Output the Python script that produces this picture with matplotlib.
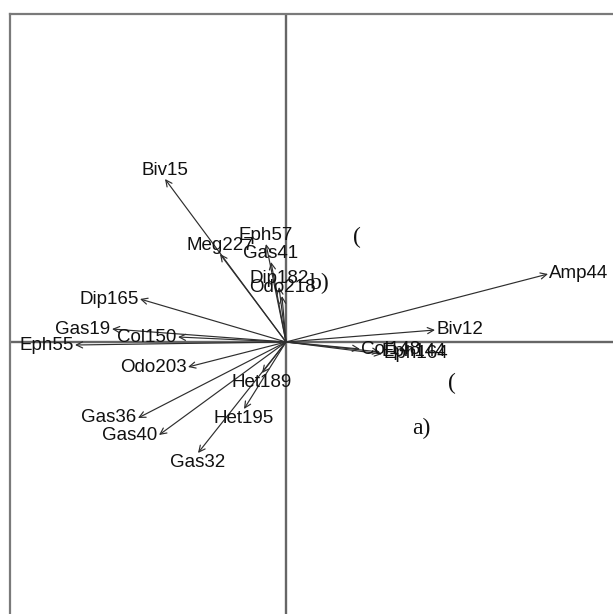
import numpy as np
import matplotlib
matplotlib.use('Agg')
import matplotlib.pyplot as plt

plt.rcParams['font.family'] = ['Liberation Sans', 'DejaVu Sans']

# 種の矢印（RDAスコア）
species = ['Biv15', 'Meg227', 'Eph57', 'Gas41', 'Dip182', 'Odo218', 'Amp44', 'Biv12',
           'Col148', 'Eph144', 'Eph164', 'Dip165', 'Gas19', 'Col150', 'Eph55', 'Odo203',
           'Gas36', 'Gas40', 'Het189', 'Het195', 'Gas32']
score_x = [-1.21, -0.66, -0.20, -0.15, -0.07, -0.04, 2.62, 1.49,
           0.74, 0.94, 0.96, -1.46, -1.74, -1.08, -2.11, -0.98,
           -1.48, -1.27, -0.24, -0.42, -0.88]
score_y = [1.63, 0.88, 0.98, 0.80, 0.55, 0.46, 0.68, 0.12,
           -0.07, -0.10, -0.12, 0.43, 0.13, 0.05, -0.03, -0.25,
           -0.76, -0.93, -0.31, -0.67, -1.11]

# 図中の注記（serif）
notes = ['(', 'b)', '(', 'a)']
note_x = [0.71, 0.34, 1.66, 1.35]
note_y = [1.05, 0.59, -0.41, -0.86]

fig = plt.figure(figsize=(6.13, 6.14), dpi=100)
ax = fig.add_axes([10 / 613, 0, 603 / 613, 600 / 614])
ax.set_xlim(-2.76, 3.27)
ax.set_ylim(-2.72, 3.28)
ax.set_xticks([])
ax.set_yticks([])
for side in ['right', 'bottom']:
    ax.spines[side].set_visible(False)
for side in ['left', 'top']:
    ax.spines[side].set_color('#7a7a7a')
    ax.spines[side].set_linewidth(1.6)

ax.axhline(0, color='#666666', lw=1.7, zorder=1)
ax.axvline(0, color='#666666', lw=1.7, zorder=1)

for name, x, y in zip(species, score_x, score_y):
    ax.annotate('', xy=(x, y), xytext=(0, 0),
                arrowprops=dict(arrowstyle='->, head_length=0.45, head_width=0.22',
                                mutation_scale=10, shrinkA=0, shrinkB=0,
                                lw=0.85, color='#2e2e2e'), zorder=2)
    if abs(y) > abs(x):
        if y > 0:
            off, ha, va = (0, 0), 'center', 'bottom'
        else:
            off, ha, va = (0, -1), 'center', 'top'
    else:
        if x > 0:
            off, ha, va = (1, 0), 'left', 'center'
        else:
            off, ha, va = (-1, 0), 'right', 'center'
    ax.annotate(name, xy=(x, y), xytext=off, textcoords='offset points',
                ha=ha, va=va, fontsize=13.5, color='#111111', zorder=3)

for t, x, y in zip(notes, note_x, note_y):
    ax.text(x, y, t, ha='center', va='center', fontsize=17,
            family=['Liberation Serif', 'DejaVu Serif'], color='#111111', zorder=3)

fig.savefig('out.png', dpi=100)
